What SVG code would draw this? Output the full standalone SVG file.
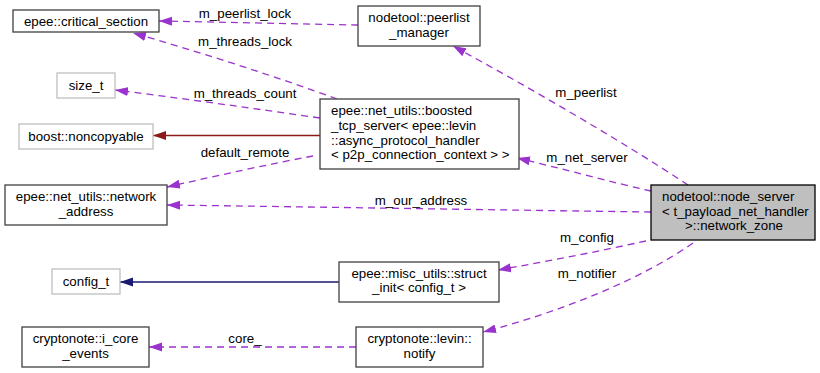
<svg xmlns="http://www.w3.org/2000/svg" width="820" height="373" viewBox="0 0 820 373">
  <style>
    text { font-family: "Liberation Sans", Arial, sans-serif; font-size: 13.3px; fill: #000; }
    .c { text-anchor: middle; }
    .box { fill: #fff; stroke: #404040; stroke-width: 1.3; }
    .ext { fill: #fff; stroke: #bfbfbf; stroke-width: 1.3; }
    .cur { fill: #bfbfbf; stroke: #000; stroke-width: 1.3; }
    .use { fill: none; stroke: #9a32cd; stroke-width: 1.3; stroke-dasharray: 7,5; marker-end: url(#ah-purple); }
    .inh-red { fill: none; stroke: #8b1a1a; stroke-width: 1.3; marker-end: url(#ah-red); }
    .inh-blue { fill: none; stroke: #191970; stroke-width: 1.3; marker-end: url(#ah-blue); }
  </style>
  <defs>
    <marker id="ah-purple" markerUnits="userSpaceOnUse" markerWidth="14" markerHeight="10" refX="13" refY="5" orient="auto">
      <path d="M0,0.5 L13,5 L0,9.5 z" fill="#9a32cd"/>
    </marker>
    <marker id="ah-red" markerUnits="userSpaceOnUse" markerWidth="14" markerHeight="10" refX="13" refY="5" orient="auto">
      <path d="M0,0.5 L13,5 L0,9.5 z" fill="#8b1a1a"/>
    </marker>
    <marker id="ah-blue" markerUnits="userSpaceOnUse" markerWidth="14" markerHeight="10" refX="13" refY="5" orient="auto">
      <path d="M0,0.5 L13,5 L0,9.5 z" fill="#191970"/>
    </marker>
  </defs>
  <rect width="820" height="373" fill="#fff"/>

  <!-- connectors -->
  <g id="edges">
    <path class="use" d="M358,25 C300,24 220,22 159,21"/>
    <text class="c" x="245" y="18">m_peerlist_lock</text>

    <path class="use" d="M337,99 C280,78 200,52 133,33"/>
    <text class="c" x="245" y="46">m_threads_lock</text>

    <path class="use" d="M320,118 C250,108 180,98 115,90"/>
    <text class="c" x="245" y="98">m_threads_count</text>

    <path class="inh-red" d="M320,135.5 L153,135.5"/>

    <path class="use" d="M313,156 C270,164 220,175 167,187"/>
    <text class="c" x="245" y="157">default_remote</text>

    <path class="use" d="M651,212 C500,210 320,207 167,205"/>
    <text class="c" x="421" y="205">m_our_address</text>

    <path class="use" d="M688,185 C620,140 530,88 453,46"/>
    <text class="c" x="586" y="97">m_peerlist</text>

    <path class="use" d="M651,191 C610,182 560,168 517,158"/>
    <text class="c" x="587" y="162">m_net_server</text>

    <path class="use" d="M646,241 C600,251 550,261 498,270"/>
    <text class="c" x="587" y="242">m_config</text>

    <path class="use" d="M693,243 C640,280 560,312 483,332"/>
    <text class="c" x="587" y="278">m_notifier</text>

    <path class="inh-blue" d="M339,282 L120,282"/>

    <path class="use" d="M356,347 L149,347"/>
    <text class="c" x="245" y="343">core_</text>
  </g>

  <!-- nodes -->
  <g id="critical_section">
    <rect class="box" x="13" y="10" width="146" height="22"/>
    <text class="c" x="86" y="25.5">epee::critical_section</text>
  </g>
  <g id="peerlist_manager">
    <rect class="box" x="358" y="6" width="122" height="40"/>
    <text class="c" x="419" y="22">nodetool::peerlist</text>
    <text class="c" x="419" y="37">_manager</text>
  </g>
  <g id="size_t">
    <rect class="ext" x="57" y="73" width="58" height="25"/>
    <text class="c" x="86" y="90">size_t</text>
  </g>
  <g id="noncopyable">
    <rect class="ext" x="19" y="124" width="134" height="25"/>
    <text class="c" x="86" y="141">boost::noncopyable</text>
  </g>
  <g id="network_address">
    <rect class="box" x="5" y="185" width="162" height="40"/>
    <text class="c" x="86" y="201">epee::net_utils::network</text>
    <text class="c" x="86" y="215.5">_address</text>
  </g>
  <g id="boosted_tcp_server">
    <rect class="box" x="320" y="99" width="199" height="70"/>
    <text x="331" y="114.5">epee::net_utils::boosted</text>
    <text x="331" y="129.5">_tcp_server&lt; epee::levin</text>
    <text x="331" y="144.5">::async_protocol_handler</text>
    <text x="331" y="159">&lt; p2p_connection_context &gt; &gt;</text>
  </g>
  <g id="network_zone">
    <rect class="cur" x="651" y="185" width="164" height="55"/>
    <text x="662" y="201">nodetool::node_server</text>
    <text x="662" y="215.5">&lt; t_payload_net_handler</text>
    <text class="c" x="734" y="230">&gt;::network_zone</text>
  </g>
  <g id="config_t">
    <rect class="ext" x="52" y="269" width="68" height="25"/>
    <text class="c" x="86" y="286">config_t</text>
  </g>
  <g id="struct_init">
    <rect class="box" x="339" y="262" width="160" height="40"/>
    <text class="c" x="419" y="277.5">epee::misc_utils::struct</text>
    <text class="c" x="419" y="292">_init&lt; config_t &gt;</text>
  </g>
  <g id="i_core_events">
    <rect class="box" x="22" y="327" width="127" height="40"/>
    <text class="c" x="85.5" y="343">cryptonote::i_core</text>
    <text class="c" x="85.5" y="357.5">_events</text>
  </g>
  <g id="notify">
    <rect class="box" x="356" y="327" width="127" height="40"/>
    <text class="c" x="419.5" y="343">cryptonote::levin::</text>
    <text class="c" x="419.5" y="357.5">notify</text>
  </g>
</svg>
